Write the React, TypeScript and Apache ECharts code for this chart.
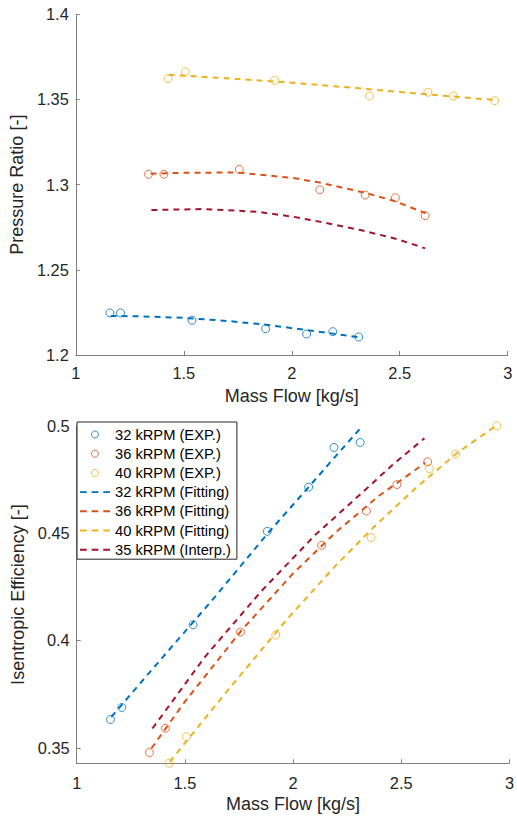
import React, { useEffect, useRef } from 'react';
import * as echarts from 'echarts';

// ---- tick labels ----
const massFlowTicks = [1, 1.5, 2, 2.5, 3];
const prTicks = [1.2, 1.25, 1.3, 1.35, 1.4];
const effTicks = [0.35, 0.4, 0.45, 0.5];

// ---- series names ----
const names = {
  exp32: '32 kRPM (EXP.)',
  exp36: '36 kRPM (EXP.)',
  exp40: '40 kRPM (EXP.)',
  fit32: '32 kRPM (Fitting)',
  fit36: '36 kRPM (Fitting)',
  fit40: '40 kRPM (Fitting)',
  int35: '35 kRPM (Interp.)',
};

// ---- Pressure ratio: experimental ----
const prFlow32 = [1.158, 1.207, 1.538, 1.879, 2.069, 2.19, 2.31];
const pr32 = [1.2247, 1.2247, 1.2204, 1.2154, 1.2123, 1.2137, 1.2106];
const prFlow36 = [1.337, 1.408, 1.757, 2.13, 2.34, 2.48, 2.618];
const pr36 = [1.3061, 1.3061, 1.309, 1.297, 1.2939, 1.2923, 1.2818];
const prFlow40 = [1.427, 1.507, 1.921, 2.36, 2.63, 2.749, 2.94];
const pr40 = [1.3622, 1.3663, 1.3612, 1.352, 1.3542, 1.352, 1.3493];

// ---- Pressure ratio: fitted / interpolated ----
const prFitFlow32 = [1.161, 1.3, 1.5, 1.7, 1.88, 2.07, 2.2, 2.31];
const prFit32 = [1.2229, 1.2227, 1.2218, 1.22, 1.2178, 1.2146, 1.2124, 1.2104];
const prFitFlow36 = [1.346, 1.5, 1.75, 2.0, 2.13, 2.34, 2.48, 2.62];
const prFit36 = [1.3064, 1.307, 1.3071, 1.304, 1.3012, 1.2952, 1.2902, 1.2832];
const prFitFlow40 = [1.43, 1.7, 2.0, 2.3, 2.6, 2.94];
const prFit40 = [1.3645, 1.3624, 1.3598, 1.3567, 1.3533, 1.3497];
const prIntFlow35 = [1.35, 1.594, 1.838, 2.005, 2.127, 2.317, 2.492, 2.618];
const prInt35 = [1.2851, 1.2857, 1.2841, 1.2812, 1.2783, 1.2734, 1.2679, 1.2626];

// ---- Efficiency: experimental ----
const effFlow32 = [1.156, 1.208, 1.538, 1.881, 2.072, 2.189, 2.31];
const eff32 = [0.3632, 0.3688, 0.4073, 0.4508, 0.4714, 0.4899, 0.4922];
const effFlow36 = [1.336, 1.41, 1.757, 2.132, 2.339, 2.48, 2.622];
const eff36 = [0.3478, 0.3591, 0.4039, 0.4443, 0.4603, 0.4726, 0.4832];
const effFlow40 = [1.426, 1.507, 1.92, 2.36, 2.63, 2.751, 2.942];
const eff40 = [0.3428, 0.3552, 0.4025, 0.4479, 0.48, 0.4868, 0.5];

// ---- Efficiency: fitted / interpolated ----
const effFitFlow32 = [1.16, 1.4, 1.62, 1.88, 2.07, 2.19, 2.307];
const effFit32 = [0.3644, 0.3925, 0.418, 0.4495, 0.4712, 0.485, 0.4983];
const effFitFlow36 = [1.345, 1.5, 1.76, 2.0, 2.2, 2.4, 2.611];
const effFit36 = [0.3497, 0.3715, 0.4045, 0.4312, 0.4506, 0.4676, 0.4827];
const effFitFlow40 = [1.43, 1.7, 1.973, 2.2, 2.36, 2.565, 2.756, 2.942];
const effFit40 = [0.3435, 0.377, 0.41, 0.4352, 0.4515, 0.4708, 0.4871, 0.5003];
const effIntFlow35 = [1.35, 1.593, 1.851, 2.102, 2.307, 2.459, 2.607];
const effInt35 = [0.359, 0.3924, 0.4227, 0.4491, 0.4677, 0.4817, 0.4941];

const C_BLUE = '#0072BD';
const C_ORANGE = '#D95319';
const C_YELLOW = '#EDB120';
const C_RED = '#A2142F';

const FONT = '"Liberation Sans", Arial, Helvetica, sans-serif';
const TEXT = '#262626';
const AXIS = '#808080';

const zip = (xs: number[], ys: number[]) => xs.map((x, i) => [x, ys[i]]);

const scatter = (name: string, color: string, xs: number[], ys: number[], idx: number) => ({
  type: 'scatter',
  name,
  xAxisIndex: idx,
  yAxisIndex: idx,
  data: zip(xs, ys),
  symbol: 'circle',
  symbolSize: 8,
  itemStyle: { color: 'rgba(255,255,255,0)', borderColor: color, borderWidth: 1 },
  emphasis: { disabled: true },
  z: 3,
});

const line = (name: string, color: string, xs: number[], ys: number[], idx: number) => ({
  type: 'line',
  name,
  xAxisIndex: idx,
  yAxisIndex: idx,
  data: zip(xs, ys),
  symbol: 'none',
  showSymbol: false,
  smooth: false,
  itemStyle: { color },
  lineStyle: { color, width: 2, type: [6, 5] },
  emphasis: { disabled: true },
  z: 2,
});

const xAxisCfg = (gridIndex: number, margin: number) => ({
  type: 'value',
  gridIndex,
  min: 1,
  max: 3,
  name: 'Mass Flow [kg/s]',
  nameLocation: 'middle',
  nameGap: 32,
  nameTextStyle: { fontFamily: FONT, fontSize: 18, color: TEXT },
  axisLine: { show: true, onZero: false, lineStyle: { color: AXIS, width: 1 } },
  axisTick: { show: true, inside: true, length: 4, customValues: massFlowTicks, lineStyle: { color: AXIS, width: 1 } },
  axisLabel: { customValues: massFlowTicks, margin, fontFamily: FONT, fontSize: 16.4, color: TEXT },
  splitLine: { show: false },
});

const yAxisCfg = (gridIndex: number, name: string, min: number, max: number, ticks: number[]) => ({
  type: 'value',
  gridIndex,
  min,
  max,
  name,
  nameLocation: 'middle',
  nameRotate: 90,
  nameGap: 44,
  nameTextStyle: { fontFamily: FONT, fontSize: 18, color: TEXT },
  axisLine: { show: true, onZero: false, lineStyle: { color: AXIS, width: 1 } },
  axisTick: { show: true, inside: true, length: 4, customValues: ticks, lineStyle: { color: AXIS, width: 1 } },
  axisLabel: { customValues: ticks, margin: 7, fontFamily: FONT, fontSize: 16.4, color: TEXT },
  splitLine: { show: false },
});

const DASH_ICON = 'path://M0,0L7,0L7,2L0,2Z M12,0L19,0L19,2L12,2Z M24,0L31,0L31,2L24,2Z';

export default function App() {
  const ref = useRef<HTMLDivElement>(null);
  useEffect(() => {
    if (!ref.current) return;
    const chart = echarts.init(ref.current, null, { renderer: 'svg' });
    chart.setOption({
      animation: false,
      backgroundColor: '#fff',
      textStyle: { fontFamily: FONT },
      grid: [
        { left: 70, top: 14.3, width: 437.7, height: 340.7 },
        { left: 76.7, top: 425.7, width: 438.6, height: 337.6 },
      ],
      xAxis: [xAxisCfg(0, 10), xAxisCfg(1, 11.5)],
      yAxis: [
        yAxisCfg(0, 'Pressure Ratio [-]', 1.2, 1.4, prTicks),
        yAxisCfg(1, 'Isentropic Efficiency [-]', 0.3428, 0.5, effTicks),
      ],
      legend: {
        orient: 'vertical',
        left: 77,
        top: 422,
        padding: [5, 6, 2, 3],
        itemWidth: 30,
        itemHeight: 7,
        itemGap: 4.2,
        backgroundColor: '#fff',
        borderColor: TEXT,
        borderWidth: 1,
        borderRadius: 0,
        selectedMode: false,
        textStyle: { fontFamily: FONT, fontSize: 14.7, color: '#000', lineHeight: 15 },
        data: [
          { name: names.exp32, icon: 'circle', itemStyle: { borderWidth: 1 } },
          { name: names.exp36, icon: 'circle', itemStyle: { borderWidth: 1 } },
          { name: names.exp40, icon: 'circle', itemStyle: { borderWidth: 1 } },
          { name: names.fit32, icon: DASH_ICON, itemStyle: { borderWidth: 0 } },
          { name: names.fit36, icon: DASH_ICON, itemStyle: { borderWidth: 0 } },
          { name: names.fit40, icon: DASH_ICON, itemStyle: { borderWidth: 0 } },
          { name: names.int35, icon: DASH_ICON, itemStyle: { borderWidth: 0 } },
        ],
      },
      series: [
        // top panel
        scatter(names.exp32, C_BLUE, prFlow32, pr32, 0),
        scatter(names.exp36, C_ORANGE, prFlow36, pr36, 0),
        scatter(names.exp40, C_YELLOW, prFlow40, pr40, 0),
        line(names.fit32, C_BLUE, prFitFlow32, prFit32, 0),
        line(names.fit36, C_ORANGE, prFitFlow36, prFit36, 0),
        line(names.fit40, C_YELLOW, prFitFlow40, prFit40, 0),
        line(names.int35, C_RED, prIntFlow35, prInt35, 0),
        // bottom panel
        scatter(names.exp32, C_BLUE, effFlow32, eff32, 1),
        scatter(names.exp36, C_ORANGE, effFlow36, eff36, 1),
        scatter(names.exp40, C_YELLOW, effFlow40, eff40, 1),
        line(names.fit32, C_BLUE, effFitFlow32, effFit32, 1),
        line(names.fit36, C_ORANGE, effFitFlow36, effFit36, 1),
        line(names.fit40, C_YELLOW, effFitFlow40, effFit40, 1),
        line(names.int35, C_RED, effIntFlow35, effInt35, 1),
      ],
    });
    return () => chart.dispose();
  }, []);
  return (
    <div
      ref={ref}
      style={{ position: 'absolute', left: 0, top: 0, width: 517, height: 817, background: '#fff' }}
    />
  );
}
